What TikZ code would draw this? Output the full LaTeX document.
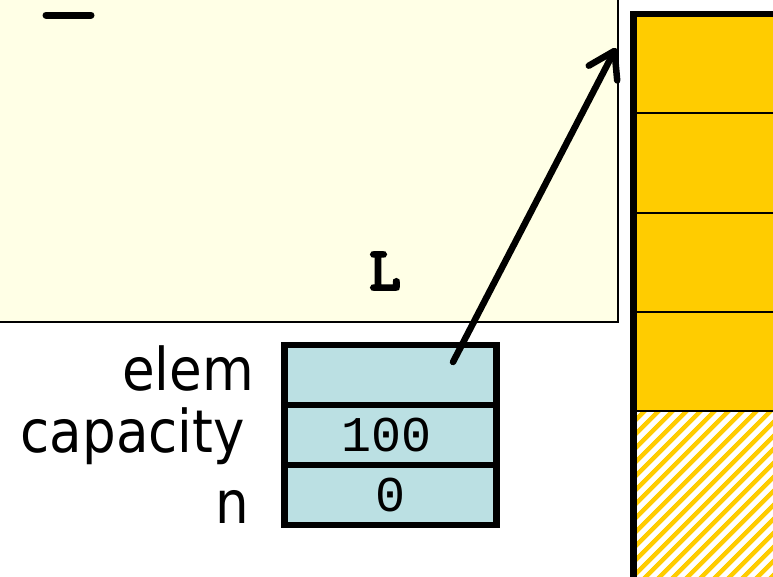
\documentclass[tikz,border=0pt]{standalone}
\usepackage{fontspec}
\newfontfamily\labelfont{DejaVu Sans Condensed}
\newfontfamily\varfont[FakeBold=5]{Latin Modern Mono}
\setmonofont{Liberation Mono}
\usetikzlibrary{positioning}
\usetikzlibrary{arrows.meta, patterns.meta}
\definecolor{scopebg}{HTML}{FFFFE6}
\definecolor{arraybg}{HTML}{FFCC00}
\definecolor{fieldbg}{HTML}{BBE0E3}

\begin{document}
\begin{tikzpicture}[x=1pt, y=-1pt, node distance=0pt,
			field/.style = {draw, line width=6.5pt, fill=fieldbg, minimum width=212pt, minimum height=60pt, inner sep=0pt, outer sep=0pt, font=\fontsize{50}{50}\selectfont\ttfamily},
			fieldname/.style = {anchor=base east, inner sep=0pt, font=\fontsize{59}{60}\selectfont\labelfont},
			cell/.style = {draw, line width=2pt, fill=arraybg, minimum width=200pt, minimum height=99.3pt, inner sep=0pt, outer sep=0pt}
			]
			\useasboundingbox (0,0) rectangle (773,576);
			\clip (0,0) rectangle (773,576);
			
			% the scope box
			\draw[line width=1.5pt, fill=scopebg] (-10,-10) rectangle (618,322);
			\draw[line width=7pt, line cap=round] (46,15) -- (91,15);
			\node[inner sep=0pt, font=\fontsize{60}{60}\selectfont\varfont] (lname) at (385,271) {L};
			
			% the array
			\node[cell, anchor=north west] (c1) at (633.5,14) {};
			\node[cell, below=of c1] (c2) {};
			\node[cell, below=of c2] (c3) {};
			\node[cell, below=of c3] (c4) {};
			\node[draw, line width=2pt, minimum width=200pt, minimum height=200pt, inner sep=0pt, outer sep=0pt, below=of c4,
				pattern={Lines[angle=45, distance=10.5pt, line width=5pt]}, pattern color=arraybg] (spare) {};
			\draw[line width=6.5pt] (spare.south west) -- (c1.north west) -- (c1.north east);
			
			% the struct
			\node[field] (elem) at (390.5,375) {};
			\node[field, below=of elem] (cap) {\hspace*{-8pt}100};
			\node[field, below=of cap] (n) {0};
			\node[fieldname] (elemname) at (254,390) {elem};
			\node[fieldname] (capname) at (245,452) {capacity};
			\node[fieldname] (nname) at (249,523) {n};
			
			\coordinate (ptr) at (453,362);
			\coordinate (tip) at (616,48);
			\draw[line width=6.5pt, line cap=round, -{Straight Barb[length=25pt, width=32pt, round]}] (ptr) -- (tip);
		\end{tikzpicture}
\end{document}
